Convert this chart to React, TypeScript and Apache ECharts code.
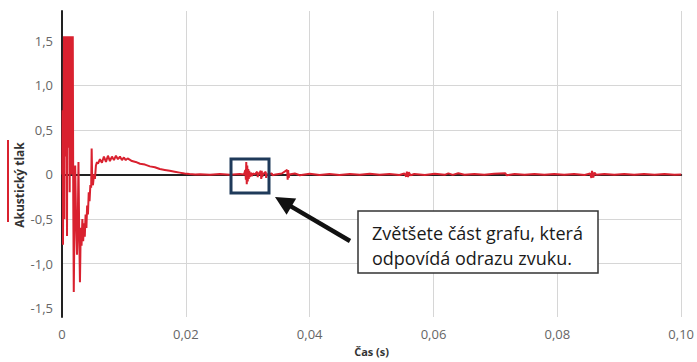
import React, { useEffect, useRef } from "react";
import * as echarts from "echarts";

// time in milliseconds, acoustic pressure (arbitrary units)
const timeMs: number[] = [
  0.05, 0.1, 0.16, 0.24, 0.32, 0.39, 0.45, 0.53,
  0.6, 0.68, 0.74, 0.81, 0.87, 0.95, 1.02, 1.1,
  1.16, 1.24, 1.31, 1.39, 1.45, 1.53, 1.6, 1.68,
  1.74, 1.82, 1.9, 2.02, 2.13, 2.26, 2.42, 2.55,
  2.66, 2.77, 2.9, 3.03, 3.16, 3.29, 3.42, 3.55,
  3.68, 3.81, 3.94, 4.06, 4.19, 4.32, 4.45, 4.58,
  4.71, 4.79, 4.89, 5.0, 5.16, 5.32, 5.48, 5.65,
  5.81, 6.13, 6.45, 6.77, 7.1, 7.42, 7.74, 8.07,
  8.39, 8.71, 9.03, 9.36, 9.68, 10.0, 10.3, 10.6,
  11.3, 11.9, 12.6, 13.4, 14.2, 15.0, 15.8, 16.6,
  17.4, 18.2, 19.0, 19.8, 20.6, 21.5, 22.3, 23.9,
  25.5, 27.1, 28.7, 29.4, 29.6, 29.7, 29.76, 29.84,
  29.92, 30.0, 30.08, 30.16, 30.24, 30.32, 30.49, 30.65,
  30.81, 31.13, 31.53, 31.61, 31.69, 31.77, 32.1, 32.18,
  32.26, 32.34, 32.42, 32.9, 32.98, 33.07, 33.9, 34.0,
  34.5, 35.5, 36.37, 36.45, 36.53, 36.61, 36.7, 37.6,
  38.4, 40.0, 41.6, 43.2, 44.8, 46.5, 48.1, 49.7,
  51.3, 52.9, 54.5, 55.3, 55.6, 55.7, 55.9, 56.0,
  56.3, 56.9, 58.6, 60.2, 61.8, 62.4, 63.1, 64.0,
  65.0, 66.6, 68.2, 69.8, 71.6, 71.8, 73.1, 74.7,
  76.3, 77.9, 79.5, 81.1, 82.7, 84.4, 85.3, 85.5,
  85.6, 85.8, 86.0, 86.3, 87.6, 89.2, 90.8, 92.4,
  94.0, 95.7, 97.3, 98.9, 100.0,
];

const pressure: number[] = [
  0.0, 0.72, -0.79, 0.3, 1.55, -0.5, 1.55, 0.2,
  1.55, 0.9, 1.55, -0.69, 1.55, 0.3, 1.55, 0.9,
  1.55, -0.2, 1.55, 0.5, 1.55, 0.0, 1.55, 0.8,
  1.55, -0.3, -1.32, -0.5, 0.1, -0.45, -0.9, -0.55,
  0.14, -0.6, -1.21, -0.6, -0.8, -0.5, -0.75, -0.55,
  -0.7, -0.45, -0.6, -0.35, -0.45, -0.2, -0.3, -0.12,
  -0.15, 0.29, -0.1, -0.12, 0.0, -0.05, 0.1, 0.14,
  0.12, 0.17, 0.13, 0.2, 0.14, 0.21, 0.15, 0.2,
  0.16, 0.21, 0.17, 0.2, 0.16, 0.19, 0.16, 0.18,
  0.15, 0.14, 0.12, 0.11, 0.09, 0.08, 0.06, 0.05,
  0.04, 0.03, 0.02, 0.01, 0.005, 0.0, 0.003, -0.004,
  0.004, -0.003, 0.004, 0.0, 0.05, -0.06, 0.14, -0.11,
  0.1, -0.08, 0.06, -0.05, 0.04, -0.03, 0.02, -0.02,
  0.01, 0.0, 0.03, -0.03, 0.02, 0.0, 0.04, -0.05,
  0.04, -0.03, 0.0, 0.03, -0.04, 0.0, 0.01, -0.01,
  0.0, 0.01, 0.05, -0.06, 0.05, -0.04, 0.0, 0.01,
  -0.01, 0.008, -0.006, 0.005, -0.006, 0.005, -0.005, 0.006,
  -0.005, 0.005, -0.006, 0.01, -0.025, 0.03, -0.03, 0.025,
  -0.01, 0.005, -0.006, 0.006, -0.005, 0.012, -0.005, 0.012,
  -0.004, 0.004, -0.005, 0.006, 0.012, -0.01, 0.005, -0.005,
  0.005, -0.005, 0.005, -0.005, 0.005, -0.006, 0.01, -0.04,
  0.04, -0.035, 0.02, -0.005, 0.005, -0.004, 0.005, -0.005,
  0.005, -0.005, 0.005, -0.004, 0.0,
];

const xTickStep = 0.02;
const yTickValues = [-1.5, -1.0, -0.5, 0, 0.5, 1.0, 1.5];
const seriesName = "Akustický tlak";
const xAxisName = "Čas (s)";
const calloutLines = ["Zvětšete část grafu, která", "odpovídá odrazu zvuku."];

const FONT = "'Open Sans', 'Noto Sans', sans-serif";

export default function App() {
  const ref = useRef<HTMLDivElement>(null);

  useEffect(() => {
    if (!ref.current) return;
    const chart = echarts.init(ref.current, undefined, { renderer: "svg" });
    const data = timeMs.map((t, i) => [t / 1000, pressure[i]]);

    // arrow geometry (annotation)
    const tail = [350, 241];
    const tip = [275, 197];
    const dx = tip[0] - tail[0];
    const dy = tip[1] - tail[1];
    const len = Math.hypot(dx, dy);
    const ux = dx / len, uy = dy / len;
    const headLen = 19, headHalf = 9.5;
    const bx = tip[0] - ux * headLen, by = tip[1] - uy * headLen;
    const px = -uy, py = ux;

    chart.setOption({
      animation: false,
      backgroundColor: "#ffffff",
      textStyle: { fontFamily: FONT },
      grid: { left: 62, right: 14, top: 11, bottom: 42, containLabel: false },
      xAxis: [
        {
          type: "value",
          min: 0,
          max: 0.1,
          interval: xTickStep,
          name: xAxisName,
          nameLocation: "middle",
          nameGap: 29,
          nameTextStyle: { fontFamily: FONT, fontSize: 11, fontWeight: "bold", color: "#333" },
          axisLine: { show: false, onZero: false },
          axisTick: { show: false },
          axisLabel: {
            fontFamily: FONT,
            fontSize: 13,
            color: "#666",
            margin: 10,
            formatter: (v: number) => (v === 0 ? "0" : v.toFixed(2).replace(".", ",")),
          },
          splitLine: { show: true, lineStyle: { color: "#d6d6d6", width: 1 } },
        },
        {
          type: "value",
          min: 0,
          max: 0.1,
          position: "top",
          axisLine: { show: true, onZero: true, lineStyle: { color: "#222", width: 2 } },
          axisTick: { show: false },
          axisLabel: { show: false },
          splitLine: { show: false },
        },
      ],
      yAxis: {
        type: "value",
        min: -1.6,
        max: 1.8333,
        axisLine: { show: true, onZero: false, lineStyle: { color: "#222", width: 2 } },
        axisTick: { show: false, customValues: yTickValues },
        axisLabel: {
          fontFamily: FONT,
          fontSize: 13,
          color: "#666",
          margin: 9,
          customValues: yTickValues,
          formatter: (v: number) => (v === 0 ? "0" : v.toFixed(1).replace(".", ",")),
        },
        splitLine: {
          show: true,
          showMinLine: false,
          showMaxLine: false,
          lineStyle: { color: "#d6d6d6", width: 1 },
        },
      },
      series: [
        {
          name: seriesName,
          type: "line",
          data,
          showSymbol: false,
          symbol: "none",
          z: 3,
          lineStyle: { color: "#d9212f", width: 2 },
        },
      ],
      graphic: [
        {
          type: "line",
          shape: { x1: 8, y1: 140, x2: 8, y2: 222 },
          style: { stroke: "#d9212f", lineWidth: 2 },
        },
        {
          type: "text",
          x: 19,
          y: 185,
          rotation: Math.PI / 2,
          style: {
            text: seriesName,
            fontFamily: FONT,
            fontSize: 12,
            fontWeight: "bold",
            fill: "#333",
            align: "center",
            verticalAlign: "middle",
          },
        },
        {
          type: "rect",
          z: 10,
          shape: { x: 231, y: 159, width: 38, height: 34 },
          style: { fill: "none", stroke: "#1f3a5a", lineWidth: 3 },
        },
        {
          type: "polyline",
          z: 10,
          shape: { points: [tail, [bx + ux * 2, by + uy * 2]] },
          style: { stroke: "#111", lineWidth: 4.5, fill: "none" },
        },
        {
          type: "polygon",
          z: 10,
          shape: {
            points: [
              tip,
              [bx + px * headHalf, by + py * headHalf],
              [bx - px * headHalf, by - py * headHalf],
            ],
          },
          style: { fill: "#111" },
        },
        {
          type: "rect",
          z: 10,
          shape: { x: 358, y: 211, width: 240, height: 62 },
          style: { fill: "#ffffff", stroke: "#333", lineWidth: 1.5 },
        },
        {
          type: "text",
          z: 11,
          x: 372,
          y: 233,
          style: {
            text: calloutLines[0],
            fontFamily: FONT,
            fontSize: 18,
            fill: "#1a1a1a",
            align: "left",
            verticalAlign: "middle",
          },
        },
        {
          type: "text",
          z: 11,
          x: 372,
          y: 258,
          style: {
            text: calloutLines[1],
            fontFamily: FONT,
            fontSize: 18,
            fill: "#1a1a1a",
            align: "left",
            verticalAlign: "middle",
          },
        },
      ],
    });
    return () => chart.dispose();
  }, []);

  return (
    <div
      ref={ref}
      style={{ position: "fixed", left: 0, top: 0, width: 697, height: 362, background: "#fff" }}
    />
  );
}
